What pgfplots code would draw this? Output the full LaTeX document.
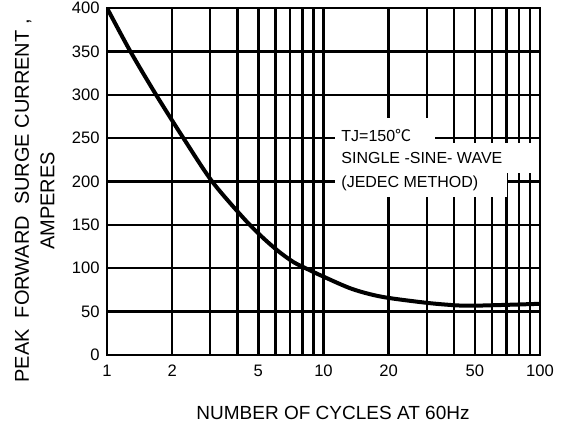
\documentclass[border=0pt]{standalone}
\usepackage{fontspec}
\setmainfont{Liberation Sans}
\newfontfamily\cjk{Noto Sans CJK SC}
\usepackage{pgfplots}
\pgfplotsset{compat=1.18}

\begin{document}
\begin{tikzpicture}
\begin{axis}[
  xmode=log, log basis x=10,
  scale only axis, width=216.5pt, height=173.5pt,
  xmin=1, xmax=100, ymin=0, ymax=400,
  xtick={1,2,5,10,20,50,100},
  xticklabels={1,2,\raisebox{-2.5pt}{5},10,20,50,100},
  minor xtick={3,4,6,7,8,9,30,40,60,70,80,90},
  ytick={0,50,...,400},
  grid=both,
  major grid style={black, line width=1.2pt},
  minor grid style={black, line width=1.2pt},
  axis line style={black, line width=1.2pt},
  major tick length=0pt, minor tick length=0pt,
  /pgf/number format/assume math mode=true,
  tick label style={font=\fontsize{8.3}{9}\selectfont},
  yticklabel style={inner sep=0pt, xshift=-3.5pt},
  xticklabel style={inner sep=0pt, yshift=-5pt, anchor=north},
  xlabel={NUMBER OF CYCLES AT 60Hz},
  xlabel style={at={(axis description cs:0.522,-0.167)}, anchor=center,
    font=\fontsize{9.5}{11}\selectfont},
  ylabel={PEAK\ \ FORWARD\ \ SURGE CURRENT ,\\AMPERES},
  ylabel style={at={(axis description cs:-0.1669,0.444)}, anchor=center,
    align=center, font=\fontsize{10}{12.75}\selectfont},
]
% surge curve
\addplot[black, line width=2pt, smooth] coordinates {
  (1,400) (1.282,350) (1.685,300) (2.254,250) (3.06,200) (4.285,157.4)
  (5.26,135) (6.27,118.5) (7.28,107) (8.27,100) (9.96,90.5) (13.6,76)
  (18.7,67) (30.3,60) (42.7,57) (53,57) (70,57.8) (100,59)
};
% white patches behind the note
\fill[white] (axis cs:11.3,244.4) rectangle (axis cs:32.7,273.2);
\fill[white] (axis cs:11.3,209.8) rectangle (axis cs:94.8,244.4);
\fill[white] (axis cs:11.3,182.1) rectangle (axis cs:70.4,209.8);
\node[anchor=base west, inner sep=0pt, font=\fontsize{8}{9}\selectfont]
  at (axis cs:12.05,245.9) {TJ=150{\cjk ℃}};
\node[anchor=base west, inner sep=0pt, font=\fontsize{8}{9}\selectfont]
  at (axis cs:12.05,221) {SINGLE -SINE- WAVE};
\node[anchor=base west, inner sep=0pt, font=\fontsize{8}{9}\selectfont]
  at (axis cs:12.05,193.3) {(JEDEC METHOD)};
\end{axis}
\pgfresetboundingbox
\path[use as bounding box] ([shift={(-53.5pt,-35.5pt)}]current axis.south west)
  rectangle ([shift={(13.5pt,4pt)}]current axis.north east);
\end{tikzpicture}
\end{document}
